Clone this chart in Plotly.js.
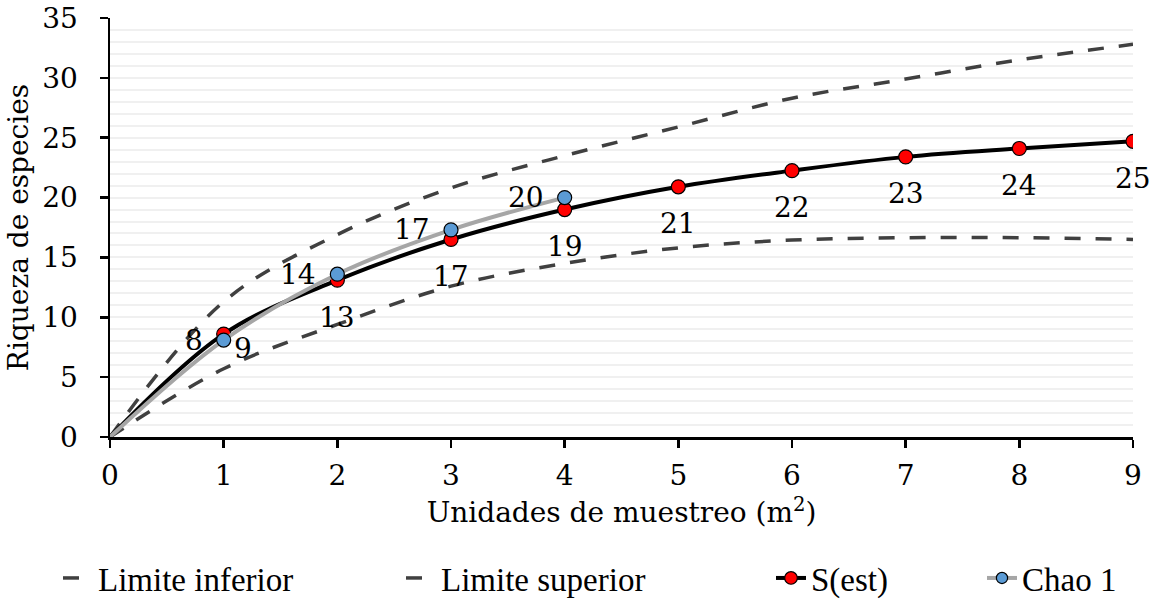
<!DOCTYPE html>
<html>
<head>
<meta charset="utf-8">
<script src="https://cdn.plot.ly/plotly-3.0.1.min.js"></script>
<style>html,body{margin:0;padding:0;background:#fff;}#chart{width:1153px;height:599px;}</style>
</head>
<body>
<div id="chart"></div>
<script>
// Data
const xSest = [0, 1, 2, 3, 4, 5, 6, 7, 8, 9];
const sEst = [0, 8.6, 13.1, 16.5, 19.0, 20.9, 22.25, 23.4, 24.1, 24.7];
const sEstLabels = ['', '9', '13', '17', '19', '21', '22', '23', '24', '25'];

const xChao = [0, 1, 2, 3, 4];
const chao1 = [0, 8.1, 13.6, 17.3, 20.0];
const chaoLabels = ['', '8', '14', '17', '20'];

const xLim = [0, 1, 2, 3, 4, 5, 6, 7, 8, 9];
const limInf = [0, 5.7, 9.4, 12.6, 14.5, 15.8, 16.45, 16.65, 16.65, 16.5];
const limSup = [0, 11.3, 16.9, 20.8, 23.5, 25.9, 28.3, 29.9, 31.5, 32.8];

const FONT = "'DejaVu Serif', serif";
const LFONT = "'Liberation Serif', serif";
const FS = 28;

function sizes(n, s) { return [0].concat(Array(n - 1).fill(s)); }

const traces = [
  {x: xLim, y: limInf, name: 'Limite inferior', mode: 'lines', legend: 'legend',
   line: {color: '#404040', width: 3.5, dash: '16px,15px', shape: 'spline', smoothing: 1}},
  {x: xLim, y: limSup, name: 'Limite superior', mode: 'lines', legend: 'legend2',
   line: {color: '#404040', width: 3.5, dash: '16px,15px', shape: 'spline', smoothing: 1}},
  {x: xSest, y: sEst, name: 'S(est)', mode: 'lines+markers', legend: 'legend3',
   line: {color: '#000000', width: 4, shape: 'spline', smoothing: 1},
   marker: {color: '#ff0000', opacity: 1, size: sizes(xSest.length, 14), line: {color: '#000000', width: 1.2}}},
  {x: xChao, y: chao1, name: 'Chao 1', mode: 'lines+markers', legend: 'legend4',
   line: {color: '#a6a6a6', width: 4, shape: 'spline', smoothing: 1},
   marker: {color: '#5b9bd5', opacity: 1, size: sizes(xChao.length, 14), line: {color: '#000000', width: 1.2}}}
];

const annotations = [];
sEstLabels.forEach((t, i) => {
  if (!t) return;
  annotations.push({x: xSest[i], y: sEst[i], text: t, showarrow: false,
    xshift: i === 1 ? 19 : 0, yshift: i === 1 ? -14 : -37,
    font: {family: FONT, size: FS, color: '#000'}});
});
chaoLabels.forEach((t, i) => {
  if (!t) return;
  annotations.push({x: xChao[i], y: chao1[i], text: t, showarrow: false,
    xanchor: 'right', xshift: -19, yshift: 0,
    font: {family: FONT, size: FS, color: '#000'}});
});

function leg(xpx) {
  return {orientation: 'h', xref: 'container', yref: 'container', x: xpx / 1153, xanchor: 'left',
          y: 21 / 599, yanchor: 'middle', font: {family: LFONT, size: 33, color: '#000'},
          bgcolor: 'rgba(0,0,0,0)', borderwidth: 0};
}

const layout = {
  width: 1153, height: 599,
  margin: {l: 110, r: 20, t: 18, b: 162},
  paper_bgcolor: '#ffffff', plot_bgcolor: '#ffffff',
  font: {family: FONT, size: FS, color: '#000'},
  showlegend: true,
  legend: leg(58), legend2: leg(401), legend3: leg(771), legend4: leg(982),
  xaxis: {range: [0, 9], dtick: 1, tick0: 0, showgrid: false, zeroline: false,
          showline: true, linecolor: '#000', linewidth: 2.5,
          ticks: 'outside', ticklen: 8, tickwidth: 2.5, tickcolor: '#000', ticklabelstandoff: 4,
          tickfont: {family: FONT, size: FS, color: '#000'},
          title: {text: 'Unidades de muestreo (m<sup>2</sup>)', font: {family: FONT, size: FS, color: '#000'}, standoff: 12}},
  yaxis: {range: [0, 35], dtick: 5, tick0: 0, showgrid: true, gridcolor: '#f0f0f0', gridwidth: 2,
          zeroline: false, showline: true, linecolor: '#000', linewidth: 2.5,
          ticks: 'outside', ticklen: 8, tickwidth: 2.5, tickcolor: '#000', ticklabelstandoff: 16,
          tickfont: {family: FONT, size: FS, color: '#000'},
          minor: {dtick: 1, showgrid: true, gridcolor: '#f0f0f0', gridwidth: 2},
          title: {text: 'Riqueza de especies', font: {family: FONT, size: FS, color: '#000'}, standoff: 6}},
  annotations: annotations
};

Plotly.newPlot('chart', traces, layout, {displayModeBar: false, staticPlot: true});
</script>
</body>
</html>
